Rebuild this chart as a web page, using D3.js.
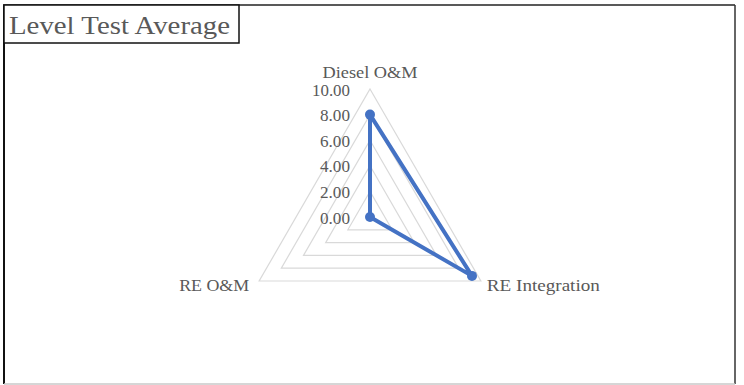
<!DOCTYPE html>
<html>
<head>
<meta charset="utf-8">
<script src="https://cdn.jsdelivr.net/npm/d3@7"></script>
<style>
  html, body { margin: 0; padding: 0; background: #fff; }
  svg { display: block; }
  text { font-family: "Liberation Serif", "Times New Roman", serif; fill: #595959; }
</style>
</head>
<body>
<svg id="chart" width="744" height="385"></svg>
<script>
// Radar chart: average level test score per area
const title = "Level Test Average";
const categories = ["Diesel O&M", "RE Integration", "RE O&M"];
const values = [8.0, 9.2, 0.0];
const tickValues = [0, 2, 4, 6, 8, 10];
const tickLabels = ["0.00", "2.00", "4.00", "6.00", "8.00", "10.00"];

const svg = d3.select("#chart");
const cx = 370, cy = 217, R = 128;

// Outer chart frame
svg.append("line").attr("x1", 4).attr("x2", 4).attr("y1", 5).attr("y2", 384)
  .attr("stroke", "#111").attr("stroke-width", 2);
svg.append("line").attr("x1", 3).attr("x2", 735).attr("y1", 5).attr("y2", 5)
  .attr("stroke", "#222").attr("stroke-width", 1.5);
svg.append("line").attr("x1", 735).attr("x2", 735).attr("y1", 5).attr("y2", 384)
  .attr("stroke", "#333").attr("stroke-width", 1.5);
svg.append("line").attr("x1", 4).attr("x2", 735).attr("y1", 384).attr("y2", 384)
  .attr("stroke", "#c8c8c8").attr("stroke-width", 1.5);

// Title box
svg.append("rect").attr("x", 4).attr("y", 5).attr("width", 235).attr("height", 38)
  .attr("fill", "#fff").attr("stroke", "#111").attr("stroke-width", 1.5);
svg.append("text").attr("x", 9).attr("y", 34)
  .attr("font-size", 26).attr("textLength", 221).attr("lengthAdjust", "spacingAndGlyphs")
  .text(title);

const r = d3.scaleLinear().domain([0, 10]).range([0, R]);
const angle = d3.scalePoint().domain(categories).range([0, 240]); // degrees, clockwise from top
const pt = (cat, v) => {
  const a = (angle(cat) - 90) * Math.PI / 180;
  return [cx + r(v) * Math.cos(a), cy + r(v) * Math.sin(a)];
};

// Grid triangles (no radial spokes)
const g = svg.append("g");
tickValues.filter(v => v > 0).forEach(v => {
  g.append("path")
    .attr("d", d3.line()(categories.map(c => pt(c, v))) + "Z")
    .attr("fill", "none").attr("stroke", "#d9d9d9").attr("stroke-width", 1.2);
});

// Tick labels along the first axis
tickValues.forEach((v, i) => {
  svg.append("text")
    .attr("x", cx - 20).attr("y", cy - r(v) + 3)
    .attr("text-anchor", "end").attr("dominant-baseline", "middle")
    .attr("font-size", 16)
    .attr("textLength", tickLabels[i].length === 5 ? 38 : 30)
    .attr("lengthAdjust", "spacingAndGlyphs")
    .text(tickLabels[i]);
});

// Category labels
const labelWidths = { "Diesel O&M": 95, "RE Integration": 113, "RE O&M": 70 };
categories.forEach(c => {
  const [x, y] = pt(c, 10);
  const a = angle(c);
  const t = svg.append("text").attr("font-size", 16)
    .attr("dominant-baseline", "middle")
    .attr("textLength", labelWidths[c]).attr("lengthAdjust", "spacingAndGlyphs")
    .text(c);
  if (a === 0) t.attr("x", x).attr("y", y - 15).attr("text-anchor", "middle");
  else if (a < 180) t.attr("x", x + 6).attr("y", y + 6).attr("text-anchor", "start");
  else t.attr("x", x - 10).attr("y", y + 6).attr("text-anchor", "end");
});

// Data series
const pts = categories.map((c, i) => pt(c, values[i]));
svg.append("path")
  .attr("d", d3.line()(pts) + "Z")
  .attr("fill", "none").attr("stroke", "#4472C4").attr("stroke-width", 4)
  .attr("stroke-linejoin", "round");
svg.selectAll("circle.m").data(pts).join("circle")
  .attr("class", "m")
  .attr("cx", d => d[0]).attr("cy", d => d[1]).attr("r", 5)
  .attr("fill", "#4472C4");
</script>
</body>
</html>
